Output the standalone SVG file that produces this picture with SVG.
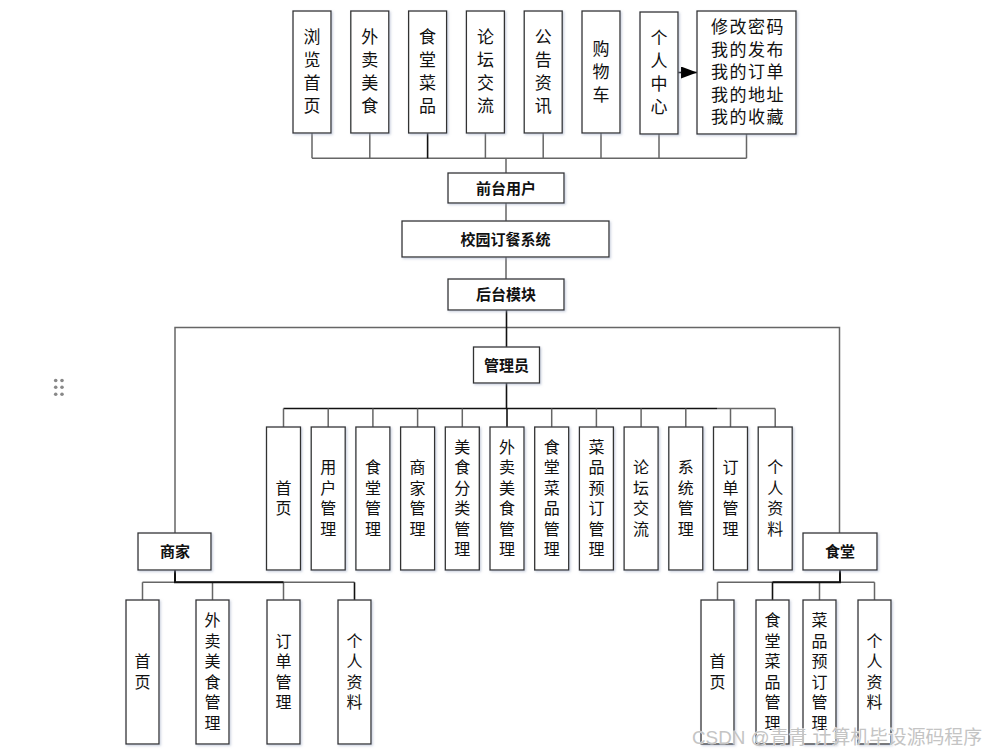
<svg xmlns="http://www.w3.org/2000/svg" width="987" height="754" viewBox="0 0 987 754">
  <defs>
    <filter id="sh" x="-10%" y="-10%" width="130%" height="130%">
      <feDropShadow dx="1.2" dy="1.2" stdDeviation="0.8" flood-color="#9aa6c0" flood-opacity="0.55"/>
    </filter>
    <marker id="arr" viewBox="0 0 16 12" refX="16" refY="6" markerWidth="16" markerHeight="12" markerUnits="userSpaceOnUse" orient="auto">
      <path d="M0,0 L16,6 L0,12 Z" fill="#000"/>
    </marker>
  </defs>
  <style>
    .box { fill: #fff; stroke: #333; stroke-width: 1.3; filter: url(#sh); }
    text { font-family: "Liberation Sans", "Noto Sans CJK SC", sans-serif; fill: #111; }
    .vt { font-size: 17px; text-anchor: middle; }
    .vs { font-size: 16px; text-anchor: middle; }
    .hd { font-size: 15px; font-weight: bold; text-anchor: middle; }
    .lst { font-size: 17px; letter-spacing: 1.5px; }
    .ln { fill: none; stroke: #666; stroke-width: 1.5; }
    .lk { fill: none; stroke: #111; stroke-width: 1.6; }
    .wm { font-size: 19px; fill: #c4c4c4; stroke: #fff; stroke-width: 0.6; paint-order: stroke; }
  </style>
  <rect width="987" height="754" fill="#fff"/>

  <!-- drag handle -->
  <g id="handle" fill="#888">
    <circle cx="55.7" cy="380.5" r="1.8"/><circle cx="62" cy="380.5" r="1.8"/>
    <circle cx="55.7" cy="387.3" r="1.8"/><circle cx="62" cy="387.3" r="1.8"/>
    <circle cx="55.7" cy="394.3" r="1.8"/><circle cx="62" cy="394.3" r="1.8"/>
  </g>

  <!-- connectors -->
  <g id="connectors">
    <!-- front-end bus -->
    <path class="ln" d="M312,133 V158.3 M369.8,133 V158.3 M485.4,133 V158.3 M543.2,133 V158.3 M601,133 V158.3 M659,134 V158.3 M746.5,134 V158.3"/>
    <path class="ln" d="M312,158.3 H746.5"/>
    <path class="lk" d="M427.6,133 V158.3"/>
    <path class="ln" d="M506,158.3 V173 M506,203 V221 M506,257 V279"/>
    <!-- arrow to personal-centre menu -->
    <path class="lk" d="M678,72.5 H697" marker-end="url(#arr)"/>
    <!-- back-end split -->
    <path class="ln" d="M175,533 V327.5 H839.5 V533"/>
    <path class="lk" d="M506.5,310 V347 M506.5,383 V408.5"/>
    <!-- admin bus -->
    <path class="lk" d="M283.5,408.5 H717"/>
    <path class="ln" d="M717,408.5 H775.2"/>
    <path class="ln" d="M283.5,408.5 V427 M328.2,408.5 V427 M372.9,408.5 V427 M417.6,408.5 V427 M462.3,408.5 V427 M551.7,408.5 V427 M596.4,408.5 V427 M641.1,408.5 V427 M685.8,408.5 V427 M730.5,408.5 V427 M775.2,408.5 V427"/>
    <path class="lk" d="M507,408.5 V427"/>
    <!-- merchant bus -->
    <path class="ln" d="M142.5,582.3 H354.5 M142.5,582.3 V600 M212.5,582.3 V600 M283.5,582.3 V600"/>
    <path class="lk" d="M175,570 V582.3 H283.5" style="stroke-width:2"/>
    <path class="lk" d="M354.5,582.3 V600"/>
    <!-- canteen bus -->
    <path class="ln" d="M717.5,582.3 H874.5 M717.5,582.3 V600 M819.5,582.3 V600 M874.5,582.3 V600"/>
    <path class="lk" d="M840,570 V582.3 H772.5" style="stroke-width:2"/>
    <path class="lk" d="M772.5,582.3 V600"/>
  </g>

  <!-- front-end modules -->
  <g id="n-browse"><rect class="box" x="293" y="11" width="38" height="122"/>
    <text class="vt"><tspan x="312" y="43">浏</tspan><tspan x="312" y="66">览</tspan><tspan x="312" y="89">首</tspan><tspan x="312" y="112">页</tspan></text></g>
  <g id="n-takeout"><rect class="box" x="350.8" y="11" width="38" height="122"/>
    <text class="vt"><tspan x="369.8" y="43">外</tspan><tspan x="369.8" y="66">卖</tspan><tspan x="369.8" y="89">美</tspan><tspan x="369.8" y="112">食</tspan></text></g>
  <g id="n-dishes"><rect class="box" x="408.6" y="11" width="38" height="122"/>
    <text class="vt"><tspan x="427.6" y="43">食</tspan><tspan x="427.6" y="66">堂</tspan><tspan x="427.6" y="89">菜</tspan><tspan x="427.6" y="112">品</tspan></text></g>
  <g id="n-forum"><rect class="box" x="466.4" y="11" width="38" height="122"/>
    <text class="vt"><tspan x="485.4" y="43">论</tspan><tspan x="485.4" y="66">坛</tspan><tspan x="485.4" y="89">交</tspan><tspan x="485.4" y="112">流</tspan></text></g>
  <g id="n-news"><rect class="box" x="524.2" y="11" width="38" height="122"/>
    <text class="vt"><tspan x="543.2" y="43">公</tspan><tspan x="543.2" y="66">告</tspan><tspan x="543.2" y="89">资</tspan><tspan x="543.2" y="112">讯</tspan></text></g>
  <g id="n-cart"><rect class="box" x="582" y="11" width="38" height="122"/>
    <text class="vt"><tspan x="601" y="55">购</tspan><tspan x="601" y="78">物</tspan><tspan x="601" y="101">车</tspan></text></g>
  <g id="n-center"><rect class="box" x="640" y="12" width="38" height="122"/>
    <text class="vt"><tspan x="659" y="44">个</tspan><tspan x="659" y="67">人</tspan><tspan x="659" y="90">中</tspan><tspan x="659" y="113">心</tspan></text></g>
  <g id="n-center-menu"><rect class="box" x="697" y="11" width="99" height="123"/>
    <text class="lst"><tspan x="711" y="33">修改密码</tspan><tspan x="711" y="55.5">我的发布</tspan><tspan x="711" y="78">我的订单</tspan><tspan x="711" y="100.5">我的地址</tspan><tspan x="711" y="123">我的收藏</tspan></text></g>

  <!-- spine -->
  <g id="n-front"><rect class="box" x="448" y="173" width="116" height="30"/><text class="hd" x="506" y="193.5">前台用户</text></g>
  <g id="n-system"><rect class="box" x="402" y="221" width="207" height="36"/><text class="hd" x="505.5" y="244.5">校园订餐系统</text></g>
  <g id="n-back"><rect class="box" x="448" y="279" width="116" height="31"/><text class="hd" x="506" y="300">后台模块</text></g>
  <g id="n-admin"><rect class="box" x="473.5" y="347" width="66" height="36"/><text class="hd" x="506.5" y="370.5">管理员</text></g>
  <g id="n-merchant"><rect class="box" x="138" y="533" width="73" height="37"/><text class="hd" x="175" y="557">商家</text></g>
  <g id="n-canteen"><rect class="box" x="803" y="533" width="74" height="37"/><text class="hd" x="840" y="557">食堂</text></g>

  <!-- admin functions -->
  <g id="a-home"><rect class="box" x="266.5" y="427" width="34" height="143"/>
    <text class="vs"><tspan x="283.5" y="493.75">首</tspan><tspan x="283.5" y="514.25">页</tspan></text></g>
  <g id="a-users"><rect class="box" x="311.2" y="427" width="34" height="143"/>
    <text class="vs"><tspan x="328.2" y="473.25">用</tspan><tspan x="328.2" y="493.75">户</tspan><tspan x="328.2" y="514.25">管</tspan><tspan x="328.2" y="534.75">理</tspan></text></g>
  <g id="a-canteens"><rect class="box" x="355.9" y="427" width="34" height="143"/>
    <text class="vs"><tspan x="372.9" y="473.25">食</tspan><tspan x="372.9" y="493.75">堂</tspan><tspan x="372.9" y="514.25">管</tspan><tspan x="372.9" y="534.75">理</tspan></text></g>
  <g id="a-merchants"><rect class="box" x="400.6" y="427" width="34" height="143"/>
    <text class="vs"><tspan x="417.6" y="473.25">商</tspan><tspan x="417.6" y="493.75">家</tspan><tspan x="417.6" y="514.25">管</tspan><tspan x="417.6" y="534.75">理</tspan></text></g>
  <g id="a-categories"><rect class="box" x="445.3" y="427" width="34" height="143"/>
    <text class="vs"><tspan x="462.3" y="452.75">美</tspan><tspan x="462.3" y="473.25">食</tspan><tspan x="462.3" y="493.75">分</tspan><tspan x="462.3" y="514.25">类</tspan><tspan x="462.3" y="534.75">管</tspan><tspan x="462.3" y="555.25">理</tspan></text></g>
  <g id="a-takeout"><rect class="box" x="490" y="427" width="34" height="143"/>
    <text class="vs"><tspan x="507" y="452.75">外</tspan><tspan x="507" y="473.25">卖</tspan><tspan x="507" y="493.75">美</tspan><tspan x="507" y="514.25">食</tspan><tspan x="507" y="534.75">管</tspan><tspan x="507" y="555.25">理</tspan></text></g>
  <g id="a-dishes"><rect class="box" x="534.7" y="427" width="34" height="143"/>
    <text class="vs"><tspan x="551.7" y="452.75">食</tspan><tspan x="551.7" y="473.25">堂</tspan><tspan x="551.7" y="493.75">菜</tspan><tspan x="551.7" y="514.25">品</tspan><tspan x="551.7" y="534.75">管</tspan><tspan x="551.7" y="555.25">理</tspan></text></g>
  <g id="a-booking"><rect class="box" x="579.4" y="427" width="34" height="143"/>
    <text class="vs"><tspan x="596.4" y="452.75">菜</tspan><tspan x="596.4" y="473.25">品</tspan><tspan x="596.4" y="493.75">预</tspan><tspan x="596.4" y="514.25">订</tspan><tspan x="596.4" y="534.75">管</tspan><tspan x="596.4" y="555.25">理</tspan></text></g>
  <g id="a-forum"><rect class="box" x="624.1" y="427" width="34" height="143"/>
    <text class="vs"><tspan x="641.1" y="473.25">论</tspan><tspan x="641.1" y="493.75">坛</tspan><tspan x="641.1" y="514.25">交</tspan><tspan x="641.1" y="534.75">流</tspan></text></g>
  <g id="a-system"><rect class="box" x="668.8" y="427" width="34" height="143"/>
    <text class="vs"><tspan x="685.8" y="473.25">系</tspan><tspan x="685.8" y="493.75">统</tspan><tspan x="685.8" y="514.25">管</tspan><tspan x="685.8" y="534.75">理</tspan></text></g>
  <g id="a-orders"><rect class="box" x="713.5" y="427" width="34" height="143"/>
    <text class="vs"><tspan x="730.5" y="473.25">订</tspan><tspan x="730.5" y="493.75">单</tspan><tspan x="730.5" y="514.25">管</tspan><tspan x="730.5" y="534.75">理</tspan></text></g>
  <g id="a-profile"><rect class="box" x="758.2" y="427" width="34" height="143"/>
    <text class="vs"><tspan x="775.2" y="473.25">个</tspan><tspan x="775.2" y="493.75">人</tspan><tspan x="775.2" y="514.25">资</tspan><tspan x="775.2" y="534.75">料</tspan></text></g>

  <!-- merchant functions -->
  <g id="m-home"><rect class="box" x="126" y="600" width="33" height="144"/>
    <text class="vs"><tspan x="142.5" y="667.25">首</tspan><tspan x="142.5" y="687.75">页</tspan></text></g>
  <g id="m-takeout"><rect class="box" x="196" y="600" width="33" height="144"/>
    <text class="vs"><tspan x="212.5" y="626.25">外</tspan><tspan x="212.5" y="646.75">卖</tspan><tspan x="212.5" y="667.25">美</tspan><tspan x="212.5" y="687.75">食</tspan><tspan x="212.5" y="708.25">管</tspan><tspan x="212.5" y="728.75">理</tspan></text></g>
  <g id="m-orders"><rect class="box" x="267" y="600" width="33" height="144"/>
    <text class="vs"><tspan x="283.5" y="646.75">订</tspan><tspan x="283.5" y="667.25">单</tspan><tspan x="283.5" y="687.75">管</tspan><tspan x="283.5" y="708.25">理</tspan></text></g>
  <g id="m-profile"><rect class="box" x="338" y="600" width="33" height="144"/>
    <text class="vs"><tspan x="354.5" y="646.75">个</tspan><tspan x="354.5" y="667.25">人</tspan><tspan x="354.5" y="687.75">资</tspan><tspan x="354.5" y="708.25">料</tspan></text></g>

  <!-- canteen functions -->
  <g id="c-home"><rect class="box" x="701" y="600" width="33" height="144"/>
    <text class="vs"><tspan x="717.5" y="667.25">首</tspan><tspan x="717.5" y="687.75">页</tspan></text></g>
  <g id="c-dishes"><rect class="box" x="756" y="600" width="33" height="144"/>
    <text class="vs"><tspan x="772.5" y="626.25">食</tspan><tspan x="772.5" y="646.75">堂</tspan><tspan x="772.5" y="667.25">菜</tspan><tspan x="772.5" y="687.75">品</tspan><tspan x="772.5" y="708.25">管</tspan><tspan x="772.5" y="728.75">理</tspan></text></g>
  <g id="c-booking"><rect class="box" x="803" y="600" width="33" height="144"/>
    <text class="vs"><tspan x="819.5" y="626.25">菜</tspan><tspan x="819.5" y="646.75">品</tspan><tspan x="819.5" y="667.25">预</tspan><tspan x="819.5" y="687.75">订</tspan><tspan x="819.5" y="708.25">管</tspan><tspan x="819.5" y="728.75">理</tspan></text></g>
  <g id="c-profile"><rect class="box" x="858" y="600" width="33" height="144"/>
    <text class="vs"><tspan x="874.5" y="646.75">个</tspan><tspan x="874.5" y="667.25">人</tspan><tspan x="874.5" y="687.75">资</tspan><tspan x="874.5" y="708.25">料</tspan></text></g>

  <!-- watermark -->
  <text class="wm" x="692" y="744" textLength="290" lengthAdjust="spacingAndGlyphs">CSDN @青青  计算机毕设源码程序</text>
</svg>
